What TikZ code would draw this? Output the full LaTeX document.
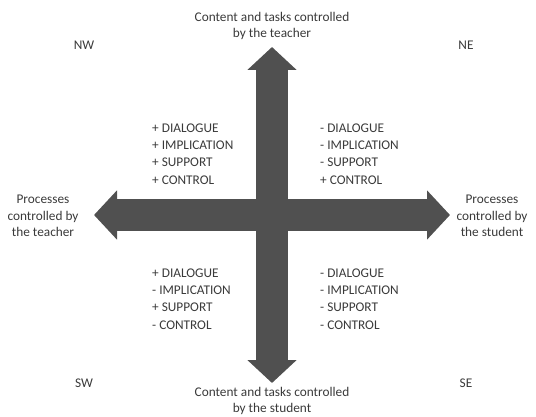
\documentclass[tikz,border=0pt]{standalone}
\usepackage{fontspec}
\setmainfont{Carlito}
\usetikzlibrary{arrows.meta}
\definecolor{arrowgray}{HTML}{505050}
\definecolor{txtgray}{HTML}{3A3A3A}
\tikzset{
  bigarrow/.style={line width=32pt, arrowgray, {Triangle[width=48pt,length=23pt]}-{Triangle[width=48pt,length=23pt]}},
  lbl/.style={text=txtgray, font=\fontsize{13.3}{16.5}\selectfont, align=center, inner sep=0pt},
  list/.style={text=txtgray, font=\fontsize{13.3}{17.2}\selectfont, align=left, anchor=west, inner sep=0pt}
}
\begin{document}
\begin{tikzpicture}[x=1pt,y=-1pt]
\useasboundingbox (0,0) rectangle (536,417);
\coordinate (top) at (272,47);
\coordinate (bot) at (272,383);
\coordinate (lft) at (94,215);
\coordinate (rgt) at (450,215);
\draw[bigarrow] (lft) -- (rgt);
\draw[bigarrow] (bot) -- (top);
\node[lbl] (teach) at (272,26) {Content and tasks controlled\\by the teacher};
\node[lbl] (stud) at (272,401) {Content and tasks controlled\\by the student};
\node[lbl] (pteach) at (43,216) {Processes\\controlled by\\the teacher};
\node[lbl] (pstud) at (492,216) {Processes\\controlled by\\the student};
\node[lbl] (nw) at (84,45) {NW};
\node[lbl] (ne) at (466,45) {NE};
\node[lbl] (sw) at (84,383) {SW};
\node[lbl] (se) at (466,383) {SE};
\node[list] (qnw) at (152,154) {+ DIALOGUE\\+ IMPLICATION\\+ SUPPORT\\+ CONTROL};
\node[list] (qne) at (320,154) {- DIALOGUE\\- IMPLICATION\\- SUPPORT\\+ CONTROL};
\node[list] (qsw) at (152,299) {+ DIALOGUE\\- IMPLICATION\\+ SUPPORT\\- CONTROL};
\node[list] (qse) at (320,299) {- DIALOGUE\\- IMPLICATION\\- SUPPORT\\- CONTROL};
\end{tikzpicture}
\end{document}
